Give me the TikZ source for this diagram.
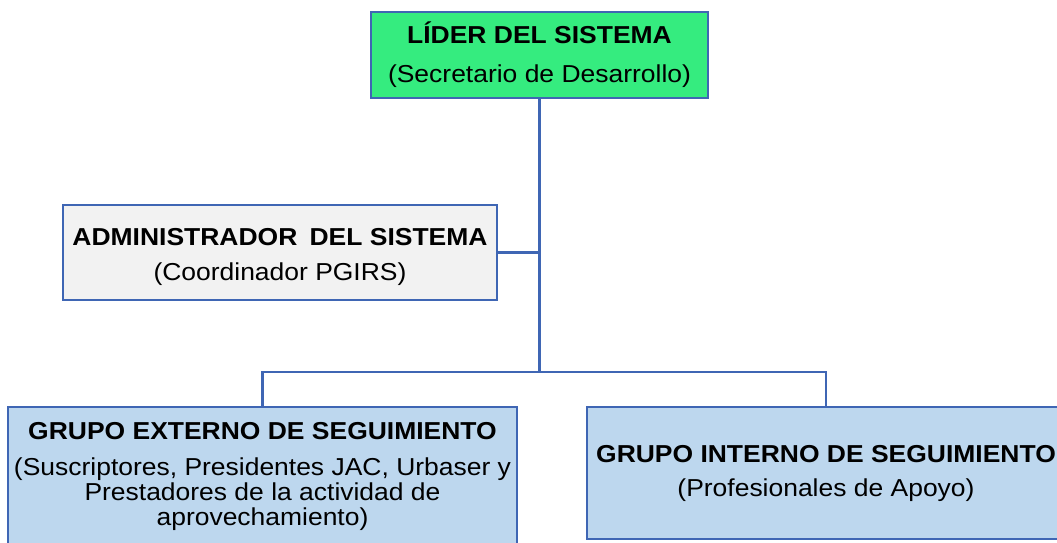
\documentclass[tikz,border=0pt]{standalone}
\usepackage{fontspec}
\setmainfont{Liberation Sans}[FakeStretch=1.08]
\usetikzlibrary{positioning}
\definecolor{lineblue}{HTML}{3F66B4}
\definecolor{lidergreen}{HTML}{35EC7F}
\definecolor{admingray}{HTML}{F2F2F2}
\definecolor{grupoblue}{HTML}{BDD7EE}

\begin{document}
\begin{tikzpicture}[
  x=1pt, y=1pt,
  font=\fontsize{24.5}{25}\selectfont,
  block/.style={draw=lineblue, line width=2.5pt, align=center, inner sep=0pt},
  conn/.style={draw=lineblue, line width=2.5pt}
]
\clip (0,0) rectangle (1057,542);

% nodes
\node[block, fill=lidergreen, minimum width=337, minimum height=86] (lider) at (539.5,487)
  {\textbf{LÍDER DEL SISTEMA}\\[14pt](Secretario de Desarrollo)};
\node[block, fill=admingray, minimum width=434, minimum height=95] (admin) at (280,289.5)
  {\rule{0pt}{26pt}\textbf{ADMINISTRADOR\hspace{0.2em} DEL SISTEMA}\\[10pt](Coordinador PGIRS)};
\node[block, fill=grupoblue, minimum width=509, minimum height=139] (externo) at (262.5,65.5)
  {\textbf{GRUPO EXTERNO DE SEGUIMIENTO}\\[11pt](Suscriptores, Presidentes JAC, Urbaser y\\Prestadores de la actividad de\\aprovechamiento)};
\node[block, fill=grupoblue, minimum width=478, minimum height=132] (interno) at (826,69)
  {\textbf{GRUPO INTERNO DE SEGUIMIENTO}\\[9pt](Profesionales de Apoyo)};
\coordinate (hub) at (539.5,170);

% connectors
\draw[conn] (lider.south) -- (hub);
\draw[conn] (admin.east) -- (admin.east -| hub);
\draw[conn] (externo.north) |- (hub) -| (interno.north);

\end{tikzpicture}
\end{document}
